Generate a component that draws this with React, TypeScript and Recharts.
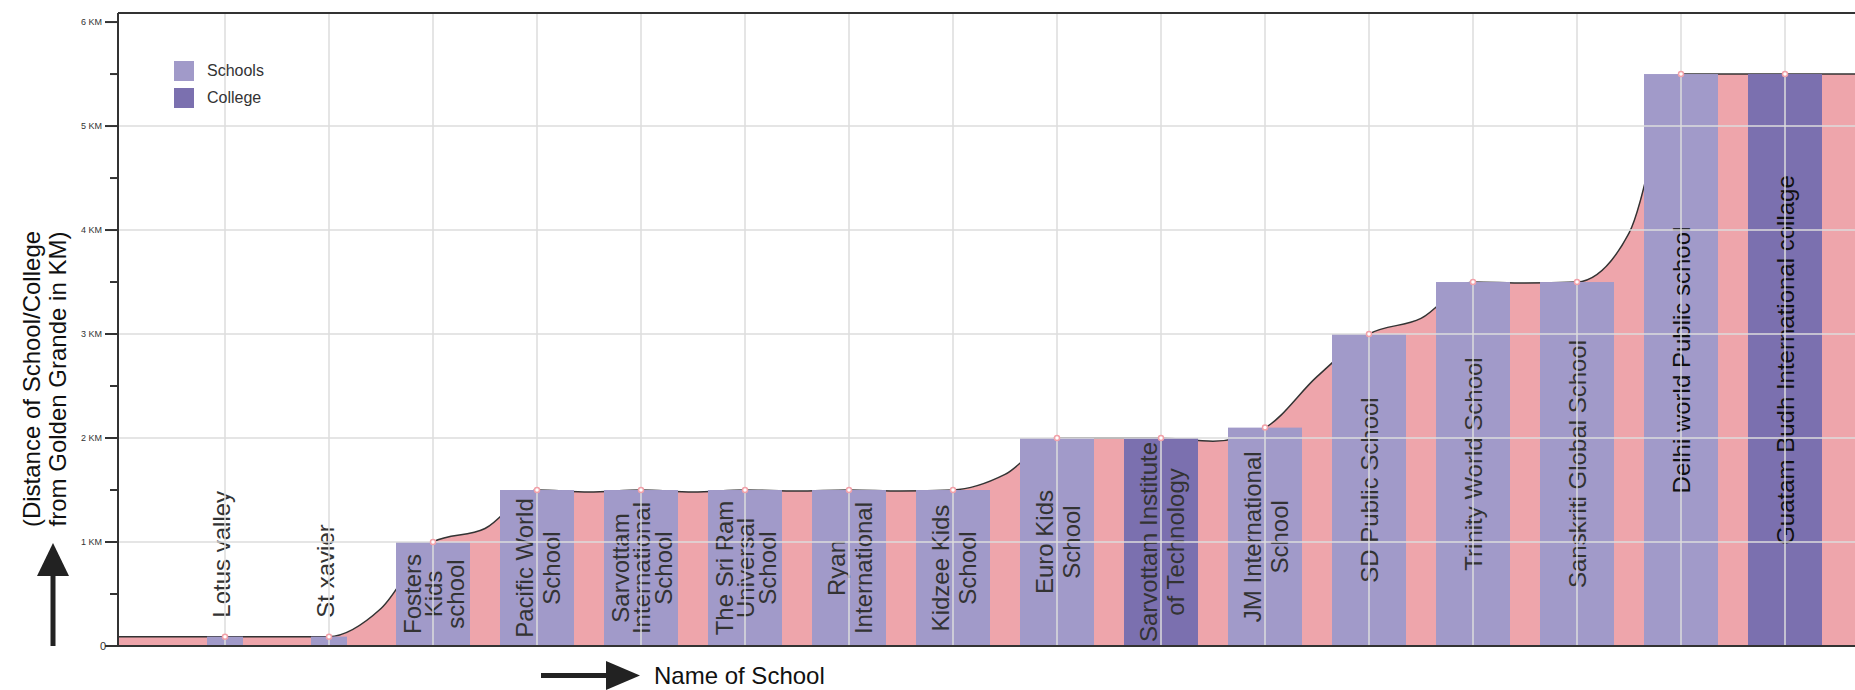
import React from "react";
import { ComposedChart, Area, Bar, Line, XAxis, YAxis, ReferenceLine } from "recharts";

// schools in the order they sit along the road
const schoolNames = [
  "Lotus valley",
  "St xavier",
  "Fosters Kids school",
  "Pacific World School",
  "Sarvottam International School",
  "The Sri Ram Universal School",
  "Ryan International",
  "Kidzee Kids School",
  "Euro Kids School",
  "Sarvottam Institute of Technology",
  "JM International School",
  "SD Public School",
  "Trinity World School",
  "Sanskriti Global School",
  "Delhi world Public school",
  "Guatam Budh International collage",
];

// how each name is wrapped inside its bar
const nameLines = [
  ["Lotus valley"],
  ["St xavier"],
  ["Fosters", "Kids", "school"],
  ["Pacific World", "School"],
  ["Sarvottam", "International", "School"],
  ["The Sri Ram", "Universal", "School"],
  ["Ryan", "International"],
  ["Kidzee Kids", "School"],
  ["Euro Kids", "School"],
  ["Sarvottam Institute", "of Technology"],
  ["JM International", "School"],
  ["SD Public School"],
  ["Trinity World School"],
  ["Sanskriti Global School"],
  ["Delhi world Public school"],
  ["Guatam Budh International collage"],
];

const distanceKm = [0.09, 0.09, 1.0, 1.5, 1.5, 1.5, 1.5, 1.5, 2.0, 2.0, 2.1, 3.0, 3.5, 3.5, 5.5, 5.5];

// road profile half way between two neighbouring schools
const betweenKm = [0.09, 0.36, 1.13, 1.48, 1.48, 1.49, 1.49, 1.65, 2.0, 1.97, 2.59, 3.15, 3.49, 3.97, 5.5];

const kinds = [
  "Schools", "Schools", "Schools", "Schools", "Schools", "Schools", "Schools", "Schools",
  "Schools", "College", "Schools", "Schools", "Schools", "Schools", "Schools", "College",
];

const kmTicks = [0, 0.5, 1, 1.5, 2, 2.5, 3, 3.5, 4, 4.5, 5, 5.5, 6];
const gridKm = [1, 2, 3, 4, 5];

const COLORS: Record<string, string> = { Schools: "#a19ac9", College: "#7b70af" };
const AREA_FILL = "#eea5ab";
const FONT = "'Liberation Sans', Arial, sans-serif";

const W = 1968;
const H = 690;
// x scale: one school every 104px, first one at x=225, plot starts at x=118
const X_MIN = (118 - 225) / 104;
const X_MAX = (W - 225) / 104;
const Y_MAX = 6.087;

const positions = schoolNames.map((_, i) => i);
const data = schoolNames.map((name, i) => ({
  pos: i,
  name,
  km: distanceKm[i],
  kind: kinds[i],
  lines: nameLines[i],
}));

// the filled road profile runs to both edges of the plot
const profile: { pos: number; km: number }[] = [{ pos: X_MIN, km: distanceKm[0] }];
distanceKm.forEach((km, i) => {
  profile.push({ pos: i, km });
  if (i < betweenKm.length) profile.push({ pos: i + 0.5, km: betweenKm[i] });
});
profile.push({ pos: X_MAX, km: distanceKm[distanceKm.length - 1] });

function KmTick(props: any) {
  const { x, y, payload } = props;
  const v = payload.value;
  const major = Number.isInteger(v);
  return (
    <g>
      <line x1={x - (major ? 13 : 8)} x2={x} y1={y} y2={y} stroke="#333" strokeWidth={2} />
      {major && (
        <text
          x={v === 0 ? x - 12 : x - 16}
          y={y}
          textAnchor="end"
          dominantBaseline="central"
          fontSize={v === 0 ? 11 : 9}
          fill="#333"
          fontFamily={FONT}
        >
          {v === 0 ? "0" : `${v} KM`}
        </text>
      )}
    </g>
  );
}

function SchoolBar(props: any) {
  const { x, y, width, height, payload } = props;
  if (!payload) return null;
  const tiny = height < 40;
  const w = tiny ? 36 : width;
  const cx = x + width / 2;
  const lines: string[] = payload.lines;
  const n = lines.length;
  const gap = n >= 3 ? 21.5 : 27;
  return (
    <g>
      <rect x={cx - w / 2} y={y} width={w} height={height} fill={COLORS[payload.kind]} />
      {tiny ? (
        <text
          x={cx + 5}
          y={y - 19}
          transform={`rotate(-90 ${cx + 5} ${y - 19})`}
          textAnchor="start"
          fontSize={24}
          fill="#333"
          fontFamily={FONT}
        >
          {lines[0]}
        </text>
      ) : (
        lines.map((t, k) => {
          const lx = cx + (k - (n - 1) / 2) * gap + 9.5;
          const ly = y + height / 2;
          return (
            <text
              key={k}
              x={lx}
              y={ly}
              transform={`rotate(-90 ${lx} ${ly})`}
              textAnchor="middle"
              fontSize={24}
              fill={height > 400 ? "#111" : "#333"}
              fontFamily={FONT}
            >
              {t}
            </text>
          );
        })
      )}
    </g>
  );
}

export default function App() {
  return (
    <div
      style={{
        position: "fixed",
        left: 0,
        top: 0,
        width: 1855,
        height: 690,
        overflow: "hidden",
        background: "#fff",
        fontFamily: FONT,
      }}
    >
      <ComposedChart width={W} height={H} data={data} margin={{ top: 13, right: 0, bottom: 0, left: 0 }}>
        <XAxis
          type="number"
          dataKey="pos"
          domain={[X_MIN, X_MAX]}
          allowDataOverflow
          ticks={positions}
          tick={false}
          tickLine={false}
          height={44}
          axisLine={{ stroke: "#333", strokeWidth: 2 }}
        />
        <XAxis
          xAxisId="profile"
          type="number"
          dataKey="pos"
          domain={[X_MIN, X_MAX]}
          allowDataOverflow
          hide
        />
        <YAxis
          type="number"
          domain={[0, Y_MAX]}
          allowDataOverflow
          ticks={kmTicks}
          interval={0}
          width={118}
          tickSize={0}
          tickMargin={0}
          tick={KmTick}
          axisLine={{ stroke: "#333", strokeWidth: 2 }}
        />
        <Area
          xAxisId="profile"
          data={profile}
          dataKey="km"
          type="monotone"
          fill={AREA_FILL}
          fillOpacity={1}
          stroke="#333"
          strokeWidth={1.5}
          dot={false}
          activeDot={false}
          isAnimationActive={false}
        />
        <Bar dataKey="km" barSize={74} shape={SchoolBar} isAnimationActive={false} />
        {gridKm.map((v) => (
          <ReferenceLine key={`h${v}`} y={v} stroke="#dcdcdc" strokeWidth={1.5} zIndex={450} />
        ))}
        {positions.map((p) => (
          <ReferenceLine key={`v${p}`} x={p} stroke="#dcdcdc" strokeWidth={1.5} zIndex={450} />
        ))}
        <ReferenceLine y={Y_MAX} stroke="#333" strokeWidth={2} zIndex={450} />
        <Line
          dataKey="km"
          stroke="none"
          dot={{ r: 2.5, fill: "#fff", stroke: "#f2a1a9", strokeWidth: 1.5 }}
          activeDot={false}
          isAnimationActive={false}
          zIndex={700}
        />
      </ComposedChart>

      <svg
        width={1855}
        height={690}
        style={{ position: "absolute", left: 0, top: 0, pointerEvents: "none" }}
      >
        <g fontFamily={FONT} fontSize={24} fill="#111">
          <text x={40} y={379} textAnchor="middle" transform="rotate(-90 40 379)">
            (Distance of School/College
          </text>
          <text x={66} y={379} textAnchor="middle" transform="rotate(-90 66 379)">
            from Golden Grande in KM)
          </text>
          <text x={654} y={684}>Name of School</text>
        </g>
        <g fill="#222">
          <polygon points="53,543 37,576 69,576" />
          <rect x={50.5} y={574} width={5} height={72} />
          <rect x={541} y={673} width={68} height={5} />
          <polygon points="606,661 640,675.5 606,690" />
        </g>
      </svg>

      <div style={{ position: "absolute", left: 174, top: 61, fontSize: 16, color: "#333" }}>
        {["Schools", "College"].map((k) => (
          <div key={k} style={{ display: "flex", alignItems: "center", height: 20, marginBottom: 7 }}>
            <span style={{ width: 20, height: 20, background: COLORS[k], display: "inline-block" }} />
            <span style={{ marginLeft: 13 }}>{k}</span>
          </div>
        ))}
      </div>
    </div>
  );
}
